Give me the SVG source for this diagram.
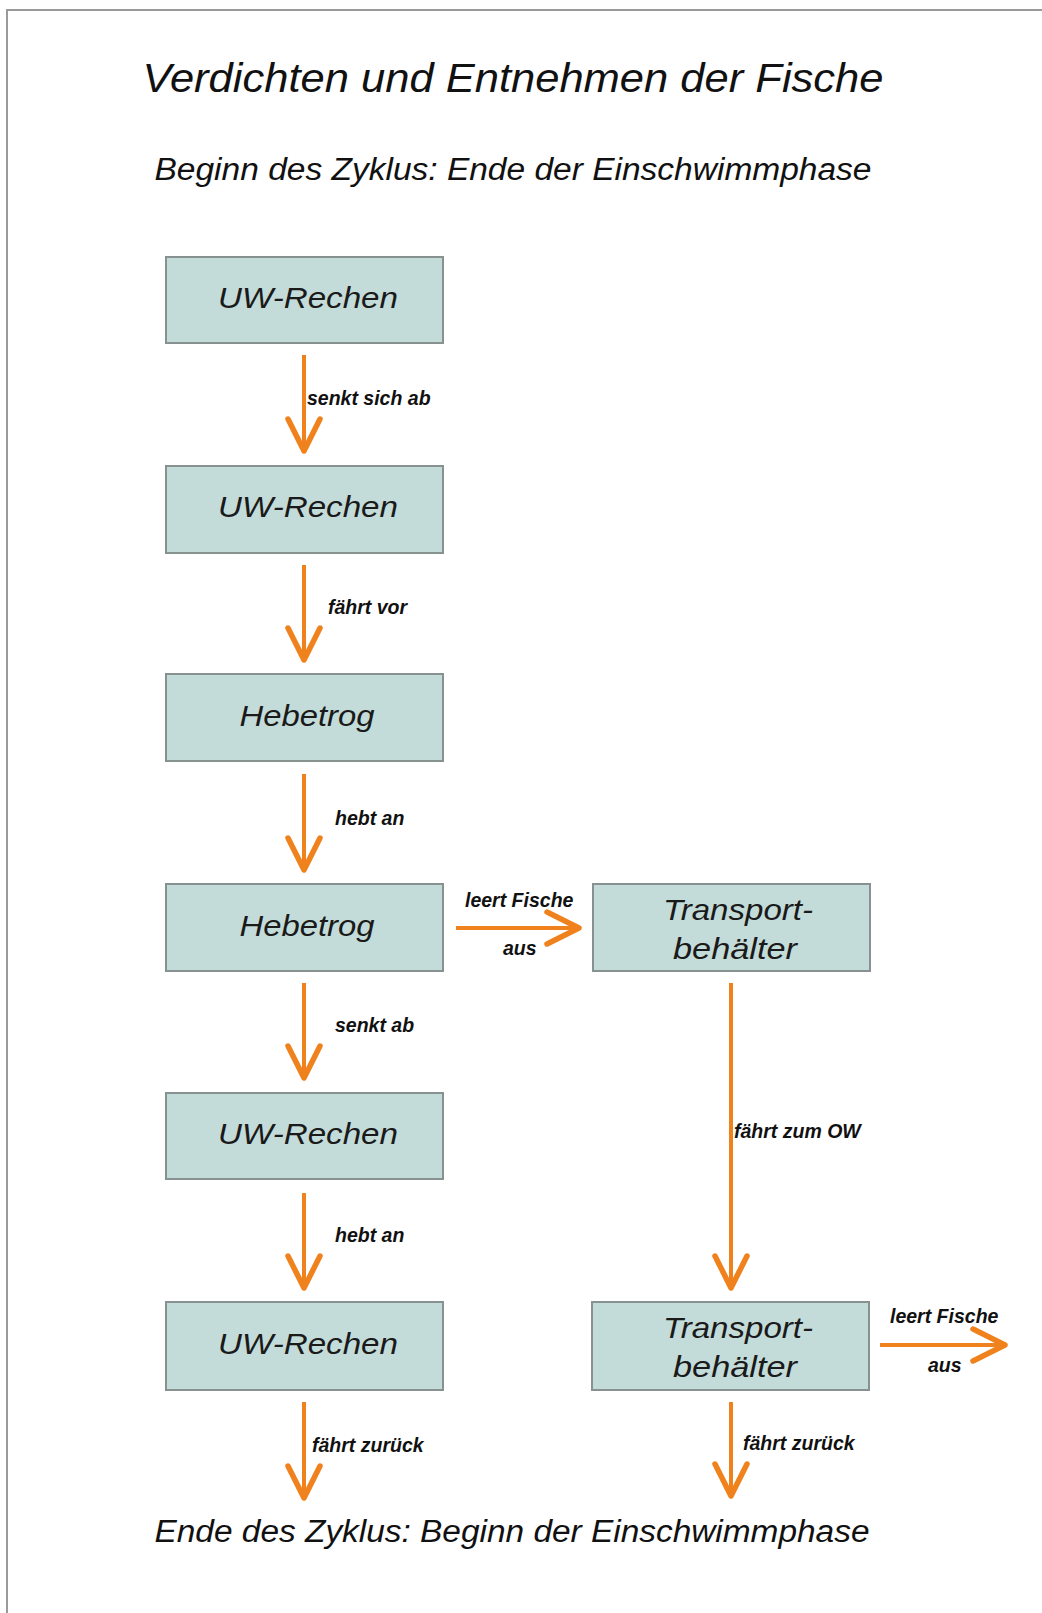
<svg xmlns="http://www.w3.org/2000/svg" width="1042" height="1613" viewBox="0 0 1042 1613">
<style>
.box{fill:#C4DCD9;stroke:#87918F;stroke-width:2}
.bt{font-family:"Liberation Sans",Arial,sans-serif;font-style:italic;font-size:30px;fill:#1a1a1a;text-anchor:middle}
.hd{font-family:"Liberation Sans",Arial,sans-serif;font-style:italic;fill:#111;text-anchor:middle}
.lb{font-family:"Liberation Sans",Arial,sans-serif;font-style:italic;font-weight:bold;font-size:19.5px;fill:#111}
.ar{stroke:#F0821E;stroke-width:4;fill:none}
</style>
<defs>
<marker id="ah" viewBox="-40 -22 46 44" markerWidth="46" markerHeight="44" refX="0" refY="0" orient="auto" markerUnits="userSpaceOnUse">
<path d="M-32,-16 L0,0 L-32,16" fill="none" stroke="#F0821E" stroke-width="5.5" stroke-linecap="round" stroke-linejoin="round"/>
</marker>
</defs>
<rect x="0" y="0" width="1042" height="1613" fill="#ffffff"/>
<path d="M7,1613 L7,10 L1042,10" fill="none" stroke="#9a9a9a" stroke-width="2"/>
<g id="titles">
<text class="hd" x="513" y="92" font-size="41" textLength="741" lengthAdjust="spacingAndGlyphs">Verdichten und Entnehmen der Fische</text>
<text class="hd" x="513" y="180" font-size="31" textLength="717" lengthAdjust="spacingAndGlyphs">Beginn des Zyklus: Ende der Einschwimmphase</text>
<text class="hd" x="512" y="1542" font-size="31" textLength="715" lengthAdjust="spacingAndGlyphs">Ende des Zyklus: Beginn der Einschwimmphase</text>
</g>
<g id="n1"><rect class="box" x="166" y="257" width="277" height="86"/><text class="bt" x="308" y="308" textLength="180" lengthAdjust="spacingAndGlyphs">UW-Rechen</text></g>
<g id="n2"><rect class="box" x="166" y="466" width="277" height="87"/><text class="bt" x="308" y="517" textLength="180" lengthAdjust="spacingAndGlyphs">UW-Rechen</text></g>
<g id="n3"><rect class="box" x="166" y="674" width="277" height="87"/><text class="bt" x="307" y="726" textLength="135" lengthAdjust="spacingAndGlyphs">Hebetrog</text></g>
<g id="n4"><rect class="box" x="166" y="884" width="277" height="87"/><text class="bt" x="307" y="936" textLength="135" lengthAdjust="spacingAndGlyphs">Hebetrog</text></g>
<g id="n5"><rect class="box" x="166" y="1093" width="277" height="86"/><text class="bt" x="308" y="1144" textLength="180" lengthAdjust="spacingAndGlyphs">UW-Rechen</text></g>
<g id="n6"><rect class="box" x="166" y="1302" width="277" height="88"/><text class="bt" x="308" y="1354" textLength="180" lengthAdjust="spacingAndGlyphs">UW-Rechen</text></g>
<g id="t1"><rect class="box" x="593" y="884" width="277" height="87"/><text class="bt" x="738" y="920" textLength="150" lengthAdjust="spacingAndGlyphs">Transport-</text><text class="bt" x="735" y="959" textLength="124" lengthAdjust="spacingAndGlyphs">behälter</text></g>
<g id="t2"><rect class="box" x="592" y="1302" width="277" height="88"/><text class="bt" x="738" y="1338" textLength="150" lengthAdjust="spacingAndGlyphs">Transport-</text><text class="bt" x="735" y="1377" textLength="124" lengthAdjust="spacingAndGlyphs">behälter</text></g>
<g id="connectors">
<line class="ar" x1="304" y1="355" x2="304" y2="451" marker-end="url(#ah)"/>
<line class="ar" x1="304" y1="565" x2="304" y2="660" marker-end="url(#ah)"/>
<line class="ar" x1="304" y1="774" x2="304" y2="870" marker-end="url(#ah)"/>
<line class="ar" x1="304" y1="983" x2="304" y2="1078" marker-end="url(#ah)"/>
<line class="ar" x1="304" y1="1193" x2="304" y2="1288" marker-end="url(#ah)"/>
<line class="ar" x1="304" y1="1402" x2="304" y2="1498" marker-end="url(#ah)"/>
<line class="ar" x1="731" y1="983" x2="731" y2="1288" marker-end="url(#ah)"/>
<line class="ar" x1="731" y1="1402" x2="731" y2="1496" marker-end="url(#ah)"/>
<line class="ar" x1="456" y1="928" x2="579" y2="928" marker-end="url(#ah)"/>
<line class="ar" x1="880" y1="1345" x2="1005" y2="1345" marker-end="url(#ah)"/>
<text class="lb" x="307" y="405">senkt sich ab</text>
<text class="lb" x="328" y="614">fährt vor</text>
<text class="lb" x="335" y="825">hebt an</text>
<text class="lb" x="465" y="907">leert Fische</text>
<text class="lb" x="503" y="955">aus</text>
<text class="lb" x="335" y="1032">senkt ab</text>
<text class="lb" x="335" y="1242">hebt an</text>
<text class="lb" x="312" y="1452">fährt zurück</text>
<text class="lb" x="734" y="1138">fährt zum OW</text>
<text class="lb" x="890" y="1323">leert Fische</text>
<text class="lb" x="928" y="1372">aus</text>
<text class="lb" x="743" y="1450">fährt zurück</text>
</g>
</svg>
